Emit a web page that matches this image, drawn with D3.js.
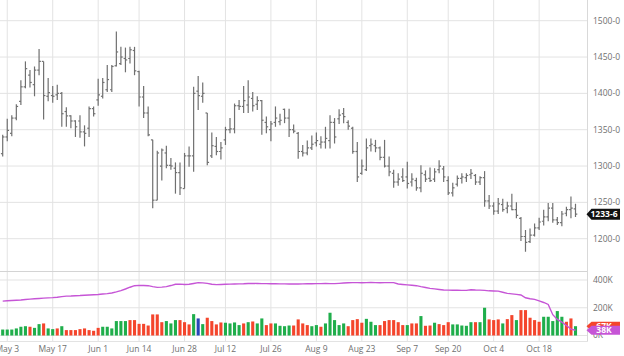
<!DOCTYPE html>
<html><head><meta charset="utf-8">
<script src="https://cdn.jsdelivr.net/npm/d3@7"></script>
<style>body{margin:0;background:#fff}svg{display:block;font-family:"Open Sans",sans-serif}</style>
</head><body><svg id="c" width="624" height="356"></svg>
<script>
const dates = [
"2021-04-30",
"2021-05-03","2021-05-04","2021-05-05","2021-05-06","2021-05-07","2021-05-10","2021-05-11","2021-05-12","2021-05-13","2021-05-14",
"2021-05-17","2021-05-18","2021-05-19","2021-05-20","2021-05-21","2021-05-24","2021-05-25","2021-05-26","2021-05-27","2021-05-28",
"2021-06-01","2021-06-02","2021-06-03","2021-06-04","2021-06-07","2021-06-08","2021-06-09","2021-06-10","2021-06-11",
"2021-06-14","2021-06-15","2021-06-16","2021-06-17","2021-06-18","2021-06-21","2021-06-22","2021-06-23","2021-06-24","2021-06-25",
"2021-06-28","2021-06-29","2021-06-30","2021-07-01","2021-07-02","2021-07-06","2021-07-07","2021-07-08","2021-07-09",
"2021-07-12","2021-07-13","2021-07-14","2021-07-15","2021-07-16","2021-07-19","2021-07-20","2021-07-21","2021-07-22","2021-07-23",
"2021-07-26","2021-07-27","2021-07-28","2021-07-29","2021-07-30","2021-08-02","2021-08-03","2021-08-04","2021-08-05","2021-08-06",
"2021-08-09","2021-08-10","2021-08-11","2021-08-12","2021-08-13","2021-08-16","2021-08-17","2021-08-18","2021-08-19","2021-08-20",
"2021-08-23","2021-08-24","2021-08-25","2021-08-26","2021-08-27","2021-08-30","2021-08-31","2021-09-01","2021-09-02","2021-09-03",
"2021-09-07","2021-09-08","2021-09-09","2021-09-10","2021-09-13","2021-09-14","2021-09-15","2021-09-16","2021-09-17",
"2021-09-20","2021-09-21","2021-09-22","2021-09-23","2021-09-24","2021-09-27","2021-09-28","2021-09-29","2021-09-30","2021-10-01",
"2021-10-04","2021-10-05","2021-10-06","2021-10-07","2021-10-08","2021-10-11","2021-10-12","2021-10-13","2021-10-14","2021-10-15",
"2021-10-18","2021-10-19","2021-10-20","2021-10-21","2021-10-22","2021-10-25","2021-10-26","2021-10-27","2021-10-28"];

const opens = [1317,1340,1345,1366,1389,1409,1425,1412,1432,1444,1396,1397,1398,1400,1375,1369,1362,1362,1347,1352,1379,
1391,1396,1405,1405,1438,1441,1448,1448,1459,1430,1395,1373,1336,1253,1300,1318,1301,1297,1291,1269,1314,1314,1403,1396,1373,
1314,1327,1320,1336,1350,1351,1383,1382,1384,1393,1385,1390,1360,1350,1360,1361,1378,1366,1350,1345,1320,1318,1325,1332,1330,
1333,1335,1360,1365,1372,1360,1352,1320,1290,1295,1328,1328,1325,1312,1300,1290,1278,1285,1285,1278,1280,1270,1288,1283,1282,
1295,1296,1280,1263,1275,1283,1284,1288,1287,1278,1284,1252,1245,1238,1247,1242,1245,1240,1228,1203,1196,1205,1215,1224,1230,
1242,1226,1222,1235,1240,1241];
const highs = [1343,1365,1370,1385,1418,1444,1432,1437,1461,1444,1421,1410,1412,1402,1381,1370,1363,1370,1356,1382,1382,
1420,1421,1439,1439,1485,1464,1463,1464,1464,1431,1410,1382,1336,1321,1324,1328,1311,1305,1305,1318,1327,1409,1424,1415,1373,
1346,1340,1333,1354,1366,1386,1391,1410,1418,1402,1396,1391,1368,1362,1382,1372,1379,1379,1357,1347,1329,1335,1342,1346,1341,
1354,1370,1366,1378,1380,1363,1354,1333,1309,1338,1338,1336,1327,1336,1313,1295,1290,1297,1306,1290,1284,1301,1294,1298,1297,
1308,1300,1286,1277,1287,1290,1290,1296,1289,1286,1293,1260,1250,1256,1255,1251,1262,1250,1230,1212,1214,1221,1229,1240,1249,
1249,1230,1238,1244,1258,1248];
const lows = [1313,1334,1341,1363,1384,1407,1408,1396,1425,1364,1389,1387,1391,1354,1354,1352,1340,1339,1327,1340,1368,
1383,1393,1402,1402,1437,1439,1429,1441,1425,1382,1366,1341,1242,1253,1280,1297,1295,1262,1260,1269,1299,1292,1377,1387,1301,
1311,1315,1309,1329,1345,1345,1377,1373,1373,1375,1377,1343,1345,1334,1354,1356,1359,1340,1345,1310,1313,1315,1322,1327,1324,
1324,1324,1331,1358,1359,1350,1317,1278,1288,1293,1320,1319,1308,1298,1286,1270,1273,1278,1269,1272,1266,1264,1278,1278,1278,
1290,1278,1260,1258,1272,1276,1278,1282,1274,1274,1244,1241,1233,1234,1237,1235,1239,1228,1197,1182,1194,1203,1212,1218,1224,
1222,1219,1217,1231,1228,1230];
const closes = [1340,1349,1366,1382,1409,1434,1415,1432,1444,1397,1401,1396,1400,1372,1369,1362,1354,1347,1345,1379,1372,
1398,1415,1419,1437,1457,1450,1446,1460,1431,1395,1373,1343,1253,1318,1322,1301,1300,1291,1270,1314,1314,1400,1397,1400,1305,
1328,1320,1325,1350,1351,1383,1382,1390,1395,1383,1390,1363,1354,1358,1366,1363,1366,1350,1348,1320,1318,1325,1330,1335,1333,
1338,1360,1340,1370,1368,1355,1320,1285,1300,1325,1330,1325,1312,1300,1292,1278,1282,1280,1276,1282,1270,1290,1282,1280,1292,
1300,1285,1263,1270,1283,1285,1287,1290,1278,1284,1252,1245,1238,1248,1240,1245,1240,1232,1203,1195,1205,1215,1223,1230,1242,
1226,1222,1234,1240,1242,1233.75];

const volumes = [43,43,43,51,63,67,63,55,82,87,51,46,51,67,39,39,39,46,51,39,34,
55,63,63,51,104,104,104,111,111,84,84,72,152,152,96,104,87,111,111,96,80,154,123,82,128,
104,80,94,92,87,94,75,87,96,101,87,123,75,87,87,70,67,72,72,116,87,75,67,75,63,
87,164,111,75,87,67,111,118,92,120,99,75,75,104,111,111,96,75,75,87,87,140,70,72,92,
82,75,96,80,80,72,70,96,96,96,200,116,111,116,87,118,147,111,183,183,128,111,99,135,135,
104,176,135,99,123,67];
// u = up, d = down, n = unchanged (volume bar colour)
const volDir = "uuuuuuduuduududddddddduuuuuudddddddduuudddunudddduuuududuudduuuudddduuduuuuudddduuudddddduddudduddduuuuuduudddudduddddduuuuudduuud".split("");

const openInterest = [248,250,252,254,256,259,262,265,267,269,271,273,276,280,284,285,287,288,290,292,294,
296,299,302,306,314,323,335,348,359,361,360,359,352,347,349,352,360,369,370,368,369,375,381,379,376,
369,367,368,369,370,371,372,373,375,376,375,374,374,373,373,372,372,371,371,371,372,373,373,374,374,
375,374,374,376,378,380,381,381,380,381,382,381,380,381,381,381,371,368,365,362,359,352,346,340,336,
332,328,327,326,326,325,325,330,328,327,325,322,321,320,312,304,300,296,292,272,265,260,250,238,224,
150,116,96,72,46,38];

const priceTicks = [1200,1250,1300,1350,1400,1450,1500];
const priceTickLabels = ["1200-0","1250-0","1300-0","1350-0","1400-0","1450-0","1500-0"];
const volTicks = [0,200,400];
const volTickLabels = ["0K","200K","400K"];
const dateTicks = ["2021-05-03","2021-05-17","2021-06-01","2021-06-14","2021-06-28","2021-07-12","2021-07-26",
"2021-08-09","2021-08-23","2021-09-07","2021-09-20","2021-10-04","2021-10-18"];
const dateTickLabels = ["May 3","May 17","Jun 1","Jun 14","Jun 28","Jul 12","Jul 26","Aug 9","Aug 23","Sep 7","Sep 20","Oct 4","Oct 18"];
const lastPriceLabel = "1233-6";
const lastVolumeLabel = "67K";
const lastOILabel = "38K";

const svg = d3.select("#c");
const plotRight = 587.5;
const x = d3.scalePoint().domain(dates).range([2.7, 575.5]);
const yP = d3.scaleLinear().domain([1200, 1500]).range([238.7, 20.7]);
const yV = d3.scaleLinear().domain([0, 400]).range([335.5, 280]);
const grid = "#e3e3e3";
const txt = "#707070";

svg.append("clipPath").attr("id","cp").append("rect").attr("x",0).attr("y",0).attr("width",plotRight).attr("height",342);
const g = svg.append("g").attr("clip-path","url(#cp)");

// vertical grid
g.selectAll("line.vg").data(dateTicks).join("line")
  .attr("x1", d => x(d)).attr("x2", d => x(d)).attr("y1", 0).attr("y2", 341)
  .attr("stroke", grid).attr("stroke-width", 1);
// price horizontal grid
g.selectAll("line.hg").data(priceTicks).join("line")
  .attr("x1", 0).attr("x2", plotRight).attr("y1", d => yP(d)).attr("y2", d => yP(d))
  .attr("stroke", grid);
// volume grid
g.selectAll("line.vgr").data(volTicks).join("line")
  .attr("x1", 0).attr("x2", plotRight).attr("y1", d => yV(d)).attr("y2", d => yV(d))
  .attr("stroke", grid);
// panel separators / frame
svg.append("line").attr("x1",0).attr("x2",plotRight).attr("y1",271.5).attr("y2",271.5).attr("stroke","#d4d4d4");
svg.append("line").attr("x1",0).attr("x2",plotRight).attr("y1",341.5).attr("y2",341.5).attr("stroke","#e3e3e3");
svg.append("line").attr("x1",plotRight).attr("x2",plotRight).attr("y1",0).attr("y2",341.5).attr("stroke","#d9d9d9");

// OHLC bars
const bars = g.append("g").attr("stroke","#707070").attr("stroke-width",1.2);
const idx = d3.range(dates.length);
bars.selectAll("line.hl").data(idx).join("line")
  .attr("x1", i => x(dates[i])).attr("x2", i => x(dates[i]))
  .attr("y1", i => yP(highs[i])).attr("y2", i => yP(lows[i]));
bars.selectAll("line.o").data(idx).join("line")
  .attr("x1", i => x(dates[i]) - 1.8).attr("x2", i => x(dates[i]))
  .attr("y1", i => yP(opens[i])).attr("y2", i => yP(opens[i]));
bars.selectAll("line.c").data(idx).join("line")
  .attr("x1", i => x(dates[i])).attr("x2", i => x(dates[i]) + 1.8)
  .attr("y1", i => yP(closes[i])).attr("y2", i => yP(closes[i]));

// volume bars
const colors = {u:"#1fae4b", d:"#f4452c", n:"#2746b8"};
const bw = x.step() * 0.68;
g.selectAll("rect.v").data(idx).join("rect")
  .attr("x", i => x(dates[i]) - bw/2).attr("width", bw)
  .attr("y", i => yV(volumes[i])).attr("height", i => yV(0) - yV(volumes[i]))
  .attr("fill", i => colors[volDir[i]]);

// open interest line
g.append("path").datum(idx)
  .attr("fill","none").attr("stroke","#c655d6").attr("stroke-width",1.4)
  .attr("d", d3.line().x(i => x(dates[i])).y(i => yV(openInterest[i])));

// right axis labels
svg.selectAll("text.pl").data(priceTicks).join("text")
  .attr("x", 593).attr("y", d => yP(d)).attr("dy","0.35em")
  .attr("font-size", 8.5).attr("fill", txt)
  .text((d,i) => priceTickLabels[i]);
svg.selectAll("text.vl").data(volTicks).join("text")
  .attr("x", 593).attr("y", d => yV(d)).attr("dy","0.35em")
  .attr("font-size", 8.5).attr("fill", txt)
  .text((d,i) => volTickLabels[i]);

// date labels
svg.selectAll("text.dl").data(dateTicks).join("text")
  .attr("x", d => x(d)).attr("y", 352).attr("text-anchor","middle")
  .attr("font-size", 8.5).attr("fill", txt)
  .text((d,i) => dateTickLabels[i]);

// last-value badges
function badge(yc, fill, label, h) {
  const gb = svg.append("g");
  gb.append("path").attr("fill", fill)
    .attr("d", `M${plotRight-1},${yc} L${plotRight+4},${yc-h/2} L620,${yc-h/2} L620,${yc+h/2} L${plotRight+4},${yc+h/2} Z`);
  gb.append("text").attr("x", 604).attr("y", yc).attr("dy","0.35em").attr("text-anchor","middle")
    .attr("font-size", 8.5).attr("font-weight","bold").attr("fill","#fff").text(label);
}
badge(yP(closes[closes.length-1]), "#111", lastPriceLabel, 11);
badge(yV(volumes[volumes.length-1]), colors[volDir[volDir.length-1]], lastVolumeLabel, 9);
badge(yV(openInterest[openInterest.length-1]), "#c655d6", lastOILabel, 9);
</script></body></html>
